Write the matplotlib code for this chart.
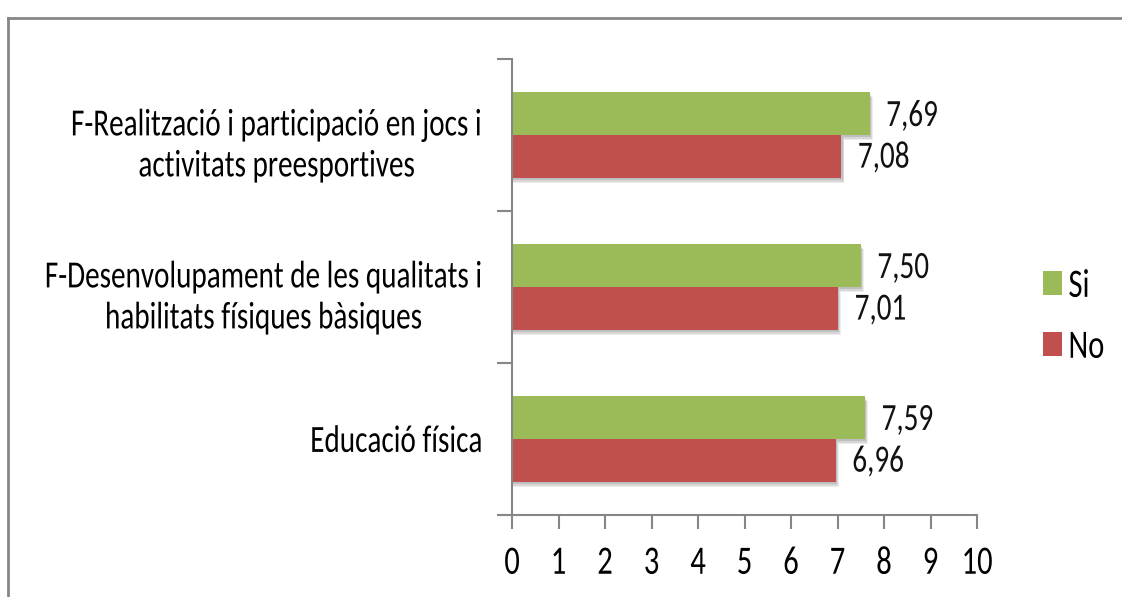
import matplotlib
matplotlib.use("Agg")
import matplotlib.pyplot as plt
from matplotlib.lines import Line2D
from matplotlib.patheffects import AbstractPathEffect
from matplotlib.transforms import Affine2D
import numpy as np

categories = [
    "Educació física",
    "F-Desenvolupament de les qualitats i\nhabilitats físiques bàsiques",
    "F-Realització i participació en jocs i\nactivitats preesportives",
]
si_values = [7.59, 7.50, 7.69]
no_values = [6.96, 7.01, 7.08]
si_labels = ["7,59", "7,50", "7,69"]
no_labels = ["6,96", "7,01", "7,08"]
series_names = ["Si", "No"]
x_ticks = list(range(0, 11))

plt.rcParams["font.family"] = ["Carlito", "DejaVu Sans"]


class VStretch(AbstractPathEffect):
    """Stretch glyphs vertically around the middle of the cap height."""

    def __init__(self, sy=1.32, c=31.0):
        super().__init__()
        self.sy = sy
        self.c = c

    def draw_path(self, renderer, gc, tpath, affine, rgbFace=None):
        t = Affine2D().translate(0, -self.c).scale(1, self.sy).translate(0, self.c)
        renderer.draw_path(gc, tpath, t + affine, rgbFace)


stretch = [VStretch()]

W, H = 1122, 597
fig = plt.figure(figsize=(W / 100, H / 100), dpi=100)
ax = fig.add_axes([512 / W, 1 - 515 / H, (977 - 512) / W, (515 - 59) / H])

green = "#9BBB59"
red = "#C0504D"
gray = "#868686"
bh = 0.283
y = np.arange(len(categories))

# soft shadows
for dy, dx, a in [(0.035, 0.07, 0.07), (0.025, 0.05, 0.09), (0.015, 0.03, 0.11)]:
    ax.barh(y + bh / 2 - dy, np.array(si_values) + dx, height=bh, color="black", alpha=a, zorder=1, lw=0)
    ax.barh(y - bh / 2 - dy, np.array(no_values) + dx, height=bh, color="black", alpha=a, zorder=1, lw=0)

ax.barh(y + bh / 2, si_values, height=bh, color=green, label=series_names[0], zorder=2, lw=0)
ax.barh(y - bh / 2, no_values, height=bh, color=red, label=series_names[1], zorder=2, lw=0)

for i in range(len(categories)):
    t1 = ax.annotate(si_labels[i], (si_values[i], y[i] + bh / 2), xytext=(12, -1.5), textcoords="offset points",
                     va="center", ha="left", fontsize=21, color="#111111")
    t2 = ax.annotate(no_labels[i], (no_values[i], y[i] - bh / 2), xytext=(12, -0.5), textcoords="offset points",
                     va="center", ha="left", fontsize=21, color="#111111")
    t1.set_path_effects(stretch)
    t2.set_path_effects(stretch)

ax.set_xlim(0, 10)
ax.set_ylim(-0.5, len(categories) - 0.5)
ax.set_xticks(x_ticks)
ax.set_xticklabels([str(t) for t in x_ticks], fontsize=22)
ax.set_yticks(np.arange(-0.5, len(categories), 1.0))
ax.set_yticklabels([])
ax.set_yticks(y, minor=True)
ax.set_yticklabels(categories, minor=True, fontsize=21, multialignment="center", linespacing=1.8)
ax.tick_params(axis="y", which="minor", length=0, pad=21)
ax.tick_params(axis="y", which="major", length=11, color=gray, width=1.5)
ax.tick_params(axis="x", length=10, color=gray, width=1.5, pad=15)
for s in ["top", "right"]:
    ax.spines[s].set_visible(False)
for s in ["left", "bottom"]:
    ax.spines[s].set_color(gray)
    ax.spines[s].set_linewidth(1.5)

for t in ax.get_xticklabels() + ax.get_yticklabels(minor=True):
    t.set_path_effects(stretch)

leg = fig.legend(loc="upper left", bbox_to_anchor=(1015 / W, 1 - 244 / H), frameon=False,
                 fontsize=22, handlelength=0.65, handleheight=0.8, handletextpad=0.2, labelspacing=1.1)
for t in leg.get_texts():
    t.set_path_effects(stretch)

# outer chart frame
fig.add_artist(Line2D([8 / W, 8 / W], [0, 1 - 18 / H], transform=fig.transFigure, color=gray, lw=2))
fig.add_artist(Line2D([8 / W, 1], [1 - 18 / H, 1 - 18 / H], transform=fig.transFigure, color=gray, lw=2))

fig.savefig("out.png", dpi=100)
